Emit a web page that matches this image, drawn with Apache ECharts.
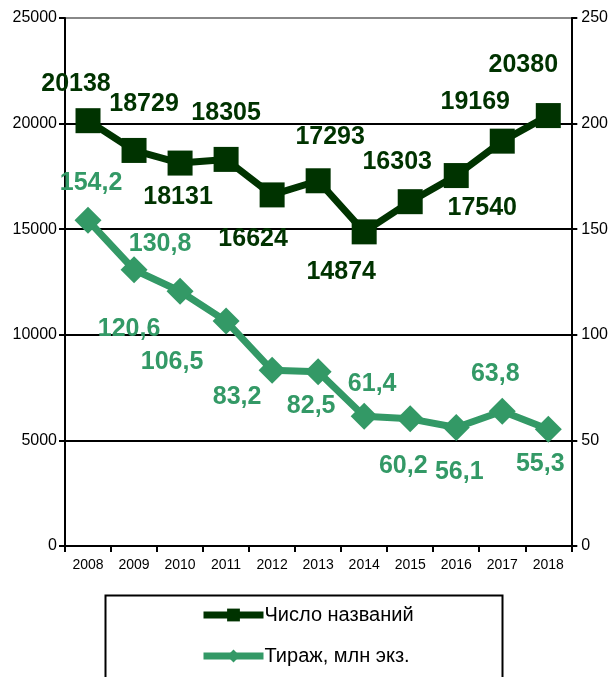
<!DOCTYPE html>
<html>
<head>
	<meta charset="utf-8">
	<script src="https://cdn.jsdelivr.net/npm/echarts@6/dist/echarts.min.js"></script>
	<style>
		body { margin: 0; background: #fff; }
	</style>
</head>
<body>
	<div id="main" style="width: 611px; height: 677px;"></div>
<script type="text/javascript">
        // данные
        var years = ['2008', '2009', '2010', '2011', '2012', '2013', '2014', '2015', '2016', '2017', '2018'];
        var titles = [20138, 18729, 18131, 18305, 16624, 17293, 14874, 16303, 17540, 19169, 20380];
        var copies = [154.2, 130.8, 120.6, 106.5, 83.2, 82.5, 61.4, 60.2, 56.1, 63.8, 55.3];
        var seriesNames = ['Число названий', 'Тираж, млн экз.'];

        // сдвиги подписей относительно точек (px)
        var titlesShift = [[-12, -37], [10, -46], [-2, 34], [0, -46], [-19, 44], [12, -44],
                           [-23, 40], [-13, -40], [26, 33], [-27, -39], [-25, -50]];
        var copiesShift = [[3, -37], [26, -26], [-51, 38], [-54, 41], [-35, 27], [-7, 34],
                           [8, -32], [-7, 47], [3, 45], [-7, -37], [-8, 35]];

        var font = 'Arial, "Liberation Sans", sans-serif';

        function withLabels(values, shifts) {
            var res = [];
            for (var i = 0; i < values.length; i++) {
                res.push({ value: values[i], label: { offset: shifts[i] } });
            }
            return res;
        }

        var myChart = echarts.init(document.getElementById('main'));

        var option = {
            backgroundColor: '#fff',
            animation: false,
            grid: { left: 65, right: 39, top: 18, bottom: 131 },
            // рамка легенды уходит за нижний край
            graphic: [{
                type: 'rect',
                left: 103,
                top: 593,
                shape: { width: 397, height: 120 },
                style: { fill: 'none', stroke: '#000', lineWidth: 2 },
                silent: true
            }],
            legend: {
                orient: 'vertical',
                left: 200,
                top: 605,
                padding: 0,
                itemWidth: 60,
                itemHeight: 16,
                itemGap: 21,
                lineStyle: { width: 7 },
                textStyle: { fontFamily: font, fontSize: 20, color: '#000', padding: [0, 0, 0, -4] },
                data: seriesNames
            },
            xAxis: {
                type: 'category',
                data: years,
                boundaryGap: true,
                axisLine: { lineStyle: { color: '#000', width: 2 } },
                axisTick: { show: true, length: 6, interval: 0, lineStyle: { color: '#000', width: 2 } },
                axisLabel: { color: '#000', fontFamily: font, fontSize: 14, margin: 12, interval: 0 }
            },
            yAxis: [
                {
                    type: 'value',
                    min: 0,
                    max: 25000,
                    interval: 5000,
                    axisLine: { show: true, lineStyle: { color: '#000', width: 2 } },
                    axisTick: { show: true, length: 6, lineStyle: { color: '#000', width: 2 } },
                    axisLabel: {
                        color: '#000', fontFamily: font, fontSize: 16, margin: 8,
                        formatter: function (v) { return String(v); }
                    },
                    splitLine: {
                        show: true,
                        lineStyle: { color: ['#000', '#000', '#000', '#000', '#000', '#888'], width: 2 }
                    }
                },
                {
                    type: 'value',
                    min: 0,
                    max: 250,
                    interval: 50,
                    position: 'right',
                    axisLine: { show: true, lineStyle: { color: '#000', width: 2 } },
                    axisTick: { show: true, length: 6, lineStyle: { color: '#000', width: 2 } },
                    axisLabel: { color: '#000', fontFamily: font, fontSize: 16, margin: 10 },
                    splitLine: { show: false }
                }
            ],
            series: [
                {
                    name: seriesNames[0],
                    type: 'line',
                    yAxisIndex: 0,
                    data: withLabels(titles, titlesShift),
                    symbol: 'rect',
                    symbolSize: 25,
                    lineStyle: { color: '#003300', width: 7 },
                    itemStyle: { color: '#003300' },
                    label: {
                        show: true,
                        position: 'inside',
                        color: '#003300',
                        fontFamily: font,
                        fontSize: 25,
                        fontWeight: 'bold'
                    },
                    z: 3
                },
                {
                    name: seriesNames[1],
                    type: 'line',
                    yAxisIndex: 1,
                    data: withLabels(copies, copiesShift),
                    symbol: 'diamond',
                    symbolSize: 27,
                    lineStyle: { color: '#339966', width: 7 },
                    itemStyle: { color: '#339966' },
                    label: {
                        show: true,
                        position: 'inside',
                        color: '#339966',
                        fontFamily: font,
                        fontSize: 25,
                        fontWeight: 'bold',
                        formatter: function (p) {
                            return p.value.toFixed(1).replace('.', ',');
                        }
                    },
                    z: 2
                }
            ]
        };

        myChart.setOption(option);
    </script>
</body>
</html>
